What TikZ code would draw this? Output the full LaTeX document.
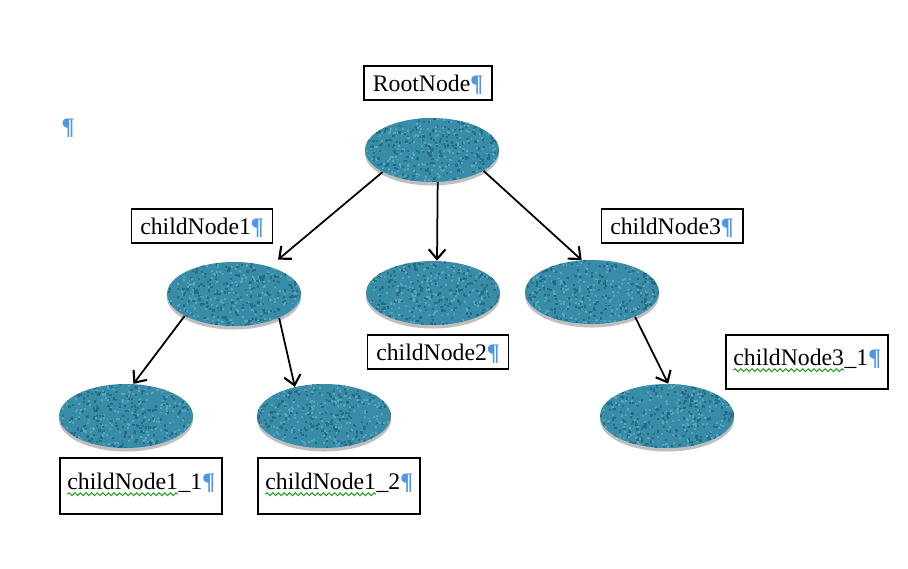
\documentclass[tikz,border=0pt]{standalone}
\usepackage{fontspec}
\setmainfont{Liberation Serif}
\usepackage{tikz}
\usepackage{xcolor}
\usetikzlibrary{shapes.geometric, arrows.meta, shadows, decorations.pathmorphing}

\definecolor{tealA}{RGB}{56,140,168}
\definecolor{tealB}{RGB}{38,108,134}
\definecolor{tealC}{RGB}{90,165,190}
\definecolor{pilblue}{RGB}{80,150,230}
\definecolor{spellgreen}{RGB}{40,160,40}

\newcommand{\pil}{{\color{pilblue}\bfseries ¶}}
\newcommand{\squig}[1]{\tikz[baseline=(w.base)]{\node[draw=none, inner sep=0pt, outer sep=0pt, minimum width=0pt, minimum height=0pt, text height=, text depth=] (w) {#1};
  \draw[spellgreen, line width=0.6pt, decorate, decoration={snake, amplitude=0.8pt, segment length=3.2pt}] ([yshift=-2.4pt]w.base west) -- ([yshift=-2.4pt]w.base east);}}

\tikzset{
  blob/.style={ellipse, minimum width=2.68cm, minimum height=1.28cm, inner sep=0pt,
    fill=tealA, drop shadow={shadow xshift=0pt, shadow yshift=-2pt, opacity=0.25, fill=black},
    path picture={
      \coordinate (pc) at (path picture bounding box.center);
      \foreach \k in {1,...,260}{
        \fill[tealB] ([shift={({rand*1.4cm},{rand*0.68cm})}]pc) rectangle ++(1.3pt,1.3pt);
        \fill[tealC] ([shift={({rand*1.4cm},{rand*0.68cm})}]pc) rectangle ++(1.1pt,1.1pt);
      }
    }},
  label/.style={draw, line width=1.1pt, inner xsep=5pt, inner ysep=2pt,
    text height=12.5pt, text depth=2.5pt, font=\fontsize{13.5}{16}\selectfont},
  tall/.style={text height=15.5pt, text depth=11pt, inner xsep=2.5pt, minimum width=3.24cm},
  arr/.style={line width=1pt, -{Straight Barb[length=5.5pt, width=9.5pt, line width=1.2pt]}}
}

\begin{document}
\begin{tikzpicture}[x=0.02cm, y=-0.02cm]
\pgfmathsetseed{7}
\useasboundingbox (0,0) rectangle (908,568);

% Ellipses
\node[blob] (root) at (432,150) {};
\node[blob] (c1) at (234,294) {};
\node[blob] (c2) at (433,293) {};
\node[blob] (c3) at (592,292) {};
\node[blob] (c11) at (126,416) {};
\node[blob] (c12) at (324,416) {};
\node[blob] (c31) at (667,416) {};

% Labels
\node[label] (lroot) at (428,83) {RootNode\pil};
\node[label] (lc1) at (202,226) {childNode1\pil};
\node[label] (lc3) at (672,226) {childNode3\pil};
\node[label] (lc2) at (438,352) {childNode2\pil};
\node[label, tall] (lc31) at (807,362) {\squig{childNode3}\_1\pil};
\node[label, tall, minimum height=1.12cm] (lc11) at (141,486) {\squig{childNode1}\_1\pil};
\node[label, tall, minimum height=1.12cm] (lc12) at (339,486) {\squig{childNode1}\_2\pil};

% Stray paragraph mark
\node[font=\fontsize{13.5}{16}\selectfont] (pmark) at (68,128) {\pil};

% Connectors
\draw[arr] (root.204) -- ([shift={(44,-2)}]c1.north);
\draw[arr] (root.-80) -- ([shift={(4,0)}]c2.north);
\draw[arr] (root.-22) -- (c3.108);
\draw[arr] (c1.204) -- (c11.77);
\draw[arr] (c1.-28) -- (c12.135);
\draw[arr] (c3.-30) -- (c31.88);

\end{tikzpicture}
\end{document}
